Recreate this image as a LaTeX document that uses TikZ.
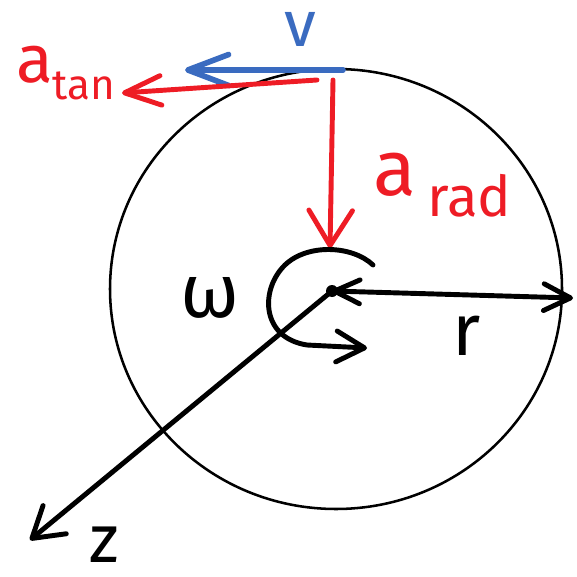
\documentclass[tikz,border=0pt]{standalone}
\usepackage{xcolor}
\usepackage{fontspec}
\setmainfont{Fira Sans}
\usetikzlibrary{positioning, arrows.meta, calc, shapes.geometric}
\definecolor{velblue}{HTML}{3A6BC0}
\definecolor{accred}{HTML}{EE1C25}
\newcommand{\hand}[1]{\fontsize{#1}{#1}\selectfont}

\tikzset{
  pen/.style={line width=3.5pt, line cap=round, line join=round},
}

\begin{document}
\begin{tikzpicture}[x=0.025cm, y=-0.025cm]
    \useasboundingbox (0,0) rectangle (577,577);
    % disc and its centre
    \node[ellipse, draw, line width=1.8pt, minimum width=452*0.025cm, minimum height=440*0.025cm] (wheel) at (336,289) {};
    \coordinate (hub) at (332,291);
    \fill (hub) circle (6);

    % points on the rim and the axis
    \coordinate (vtail) at (343,70);
    \coordinate (vhead) at (185,70);
    \coordinate (tantail) at (317,80);
    \coordinate (tanhead) at (122,93);
    \coordinate (radtail) at (333,80);
    \coordinate (radhead) at (330,248);
    \coordinate (rim) at (573,298);
    \coordinate (zend) at (30,540);
    \coordinate (spinstart) at (373,265);
    \coordinate (spinend) at (367,348);

    % vectors at the top
    \draw[pen, velblue, line width=4pt, -{Straight Barb[round, length=29pt, width=22pt]}] (vtail) -- (vhead);
    \draw[pen, accred, -{Straight Barb[round, length=26pt, width=21pt]}] (tantail) -- (tanhead);
    \draw[pen, accred, -{Straight Barb[round, length=25pt, width=31pt]}] (radtail) -- (radhead);

    % radius, axis and spin
    \draw[pen, {Straight Barb[round, length=18pt, width=17pt]}-{Straight Barb[round, length=19pt, width=19pt]}] (hub) -- (rim);
    \draw[pen, -{Straight Barb[round, length=21pt, width=26pt]}] (hub) -- (zend);
    \draw[pen, -{Straight Barb[round, length=20pt, width=22pt]}] (spinstart)
      .. controls (352,245) and (305,243) .. (283,267)
      .. controls (260,292) and (262,338) .. (307,345) -- (spinend);

    % labels
    \node[velblue, inner sep=0pt] (vlabel) at (300,29) {\hand{46}v};
    \node[accred, inner sep=0pt, anchor=base west] (atanlabel) at (16,83)
      {\hand{48}a\raisebox{-12pt}{\hand{30}tan}};
    \node[accred, inner sep=0pt, anchor=base west] (aradlabel) at (373,195)
      {\hand{56}a\hspace{8pt}\raisebox{-15pt}{\hand{40}rad}};
    \node[inner sep=0pt] (omegalabel) at (210,298) {\hand{54}ω};
    \node[inner sep=0pt] (rlabel) at (467,336) {\hand{52}r};
    \node[inner sep=0pt] (zlabel) at (104,545) {\hand{48}z};
  \end{tikzpicture}
\end{document}
